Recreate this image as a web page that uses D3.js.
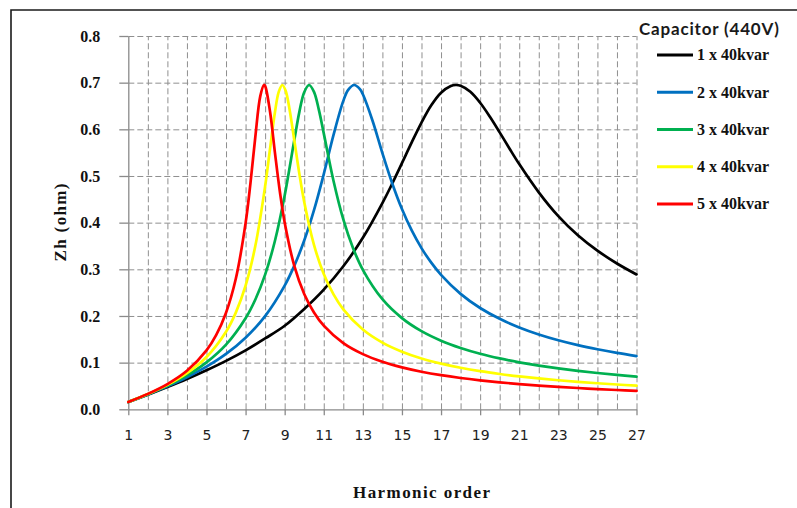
<!DOCTYPE html>
<html>
<head>
<meta charset="utf-8">
<script src="https://cdn.jsdelivr.net/npm/d3@7"></script>
<style>
  html, body { margin: 0; padding: 0; background: #fff; }
  svg { display: block; }
</style>
</head>
<body>
<svg id="chart" width="797" height="508"></svg>
<script>
// ---------- data ----------
const harmonicTicks = [1, 3, 5, 7, 9, 11, 13, 15, 17, 19, 21, 23, 25, 27];
const zhTicks = [0, 0.1, 0.2, 0.3, 0.4, 0.5, 0.6, 0.7, 0.8];
const gridHarmonics = [2, 3, 4, 5, 6, 7, 8, 9, 10, 11, 12, 13, 14, 15, 16, 17, 18, 19, 20, 21, 22, 23, 24, 25, 26, 27];
const gridZh = [0.1, 0.2, 0.3, 0.4, 0.5, 0.6, 0.7, 0.8];

const legendTitle = "Capacitor (440V)";
const seriesNames = ["1 x 40kvar", "2 x 40kvar", "3 x 40kvar", "4 x 40kvar", "5 x 40kvar"];
const seriesColors = ["#000000", "#0070C0", "#00B050", "#FFFF00", "#FF0000"];

// 1 x 40kvar
const h1 = [1, 2, 3, 4, 5, 6, 7, 8, 9, 10, 11, 12, 13, 14, 14.5, 15, 15.5, 16, 16.5, 17, 17.5, 17.76, 18, 18.5, 19, 19.5, 20, 20.5, 21, 22, 23, 24, 25, 26, 27];
const zh1 = [0.0155, 0.0314, 0.0478, 0.0650, 0.0836, 0.1038, 0.1263, 0.1518, 0.1790, 0.2150, 0.2565, 0.3065, 0.3675, 0.4420, 0.4835, 0.5275, 0.5720, 0.6145, 0.6515, 0.6785, 0.6930, 0.6950, 0.6935, 0.6805, 0.6570, 0.6270, 0.5935, 0.5590, 0.5255, 0.4650, 0.4140, 0.3730, 0.3400, 0.3125, 0.2890];
// 2 x 40kvar
const h2 = [1, 2, 3, 4, 5, 6, 7, 8, 9, 9.5, 10, 10.5, 11, 11.5, 12, 12.25, 12.56, 12.85, 13, 13.5, 14, 14.5, 15, 15.5, 16, 16.5, 17, 18, 19, 20, 21, 22, 23, 24, 25, 26, 27];
const zh2 = [0.0156, 0.0318, 0.0492, 0.0687, 0.0913, 0.1187, 0.1535, 0.1998, 0.2651, 0.3084, 0.3616, 0.4267, 0.5041, 0.5881, 0.6610, 0.6845, 0.6950, 0.6862, 0.6751, 0.6179, 0.5491, 0.4845, 0.4291, 0.3833, 0.3455, 0.3143, 0.2882, 0.2474, 0.2171, 0.1939, 0.1754, 0.1604, 0.1480, 0.1375, 0.1286, 0.1208, 0.1140];
// 3 x 40kvar
const h3 = [1, 2, 3, 4, 5, 6, 7, 7.5, 8, 8.5, 9, 9.5, 9.75, 10, 10.25, 10.5, 10.75, 11, 11.5, 12, 12.5, 13, 14, 15, 16, 17, 18, 19, 20, 21, 22, 23, 24, 25, 26, 27];
const zh3 = [0.0157, 0.0322, 0.0507, 0.0727, 0.1006, 0.1386, 0.1952, 0.2354, 0.2886, 0.3607, 0.4582, 0.5787, 0.6369, 0.6796, 0.6950, 0.6803, 0.6417, 0.5913, 0.4893, 0.4069, 0.3452, 0.2989, 0.2359, 0.1955, 0.1675, 0.1471, 0.1315, 0.1191, 0.1091, 0.1007, 0.0937, 0.0877, 0.0824, 0.0778, 0.0737, 0.0701];
// 4 x 40kvar
const h4 = [1, 2, 3, 4, 5, 6, 6.5, 7, 7.5, 8, 8.25, 8.5, 8.7, 8.88, 9.05, 9.25, 9.5, 9.75, 10, 10.5, 11, 11.5, 12, 13, 14, 15, 16, 17, 18, 19, 20, 21, 22, 23, 24, 25, 26, 27];
const zh4 = [0.0157, 0.0326, 0.0523, 0.0773, 0.1120, 0.1662, 0.2072, 0.2650, 0.3503, 0.4780, 0.5578, 0.6360, 0.6808, 0.6950, 0.6828, 0.6427, 0.5743, 0.5051, 0.4444, 0.3524, 0.2899, 0.2462, 0.2142, 0.1709, 0.1429, 0.1235, 0.1090, 0.0979, 0.0890, 0.0817, 0.0757, 0.0705, 0.0661, 0.0622, 0.0588, 0.0558, 0.0531, 0.0506];
// 5 x 40kvar
const h5 = [1, 2, 3, 4, 5, 5.5, 6, 6.5, 7, 7.25, 7.5, 7.75, 7.94, 8, 8.25, 8.5, 8.75, 9, 9.5, 10, 10.5, 11, 12, 13, 14, 15, 16, 17, 18, 19, 20, 21, 22, 23, 24, 25, 26, 27];
const zh5 = [0.0158, 0.0331, 0.0541, 0.0825, 0.1263, 0.1595, 0.2070, 0.2797, 0.3989, 0.4847, 0.5844, 0.6706, 0.6950, 0.6928, 0.6381, 0.5507, 0.4679, 0.4004, 0.3063, 0.2472, 0.2075, 0.1792, 0.1418, 0.1182, 0.1018, 0.0898, 0.0805, 0.0731, 0.0671, 0.0621, 0.0578, 0.0541, 0.0509, 0.0481, 0.0456, 0.0434, 0.0414, 0.0396];

const seriesH = [h1, h2, h3, h4, h5];
const seriesZ = [zh1, zh2, zh3, zh4, zh5];

// ---------- layout ----------
const W = 797, H = 508;
const plot = { left: 128.3, right: 636.5, top: 36, bottom: 409.3 };
const serif = "'Liberation Serif', 'Times New Roman', 'DejaVu Serif', serif";

const svg = d3.select("#chart");
svg.append("rect").attr("width", W).attr("height", H).attr("fill", "#fff");

// outer frame (left and top edges visible)
svg.append("path")
  .attr("d", `M11,${H} L11,10 L${W},10`)
  .attr("fill", "none").attr("stroke", "#1a1a1a").attr("stroke-width", 1.6);

const x = d3.scaleLinear().domain([1, 27]).range([plot.left, plot.right]);
const y = d3.scaleLinear().domain([0, 0.8]).range([plot.bottom, plot.top]);

const gridColor = "#8f8f8f";

// vertical gridlines
const gx = svg.append("g").attr("transform", `translate(0,${plot.bottom})`)
  .call(d3.axisBottom(x).tickValues(gridHarmonics).tickSize(-(plot.bottom - plot.top)).tickFormat(""));
gx.select(".domain").remove();
gx.selectAll("line").attr("stroke", gridColor).attr("stroke-width", 1).attr("stroke-dasharray", "6,3");

// horizontal gridlines
const gy = svg.append("g").attr("transform", `translate(${plot.left},0)`)
  .call(d3.axisLeft(y).tickValues(gridZh).tickSize(-(plot.right - plot.left)).tickFormat(""));
gy.select(".domain").remove();
gy.selectAll("line").attr("stroke", gridColor).attr("stroke-width", 1).attr("stroke-dasharray", "6,3");

// x axis
const ax = svg.append("g").attr("transform", `translate(0,${plot.bottom})`)
  .call(d3.axisBottom(x).tickValues(harmonicTicks).tickSizeInner(6).tickSizeOuter(0).tickPadding(15).tickFormat(d3.format("d")));
ax.select(".domain").attr("stroke", "#8a8a8a").attr("stroke-width", 1.3);
ax.selectAll(".tick line").attr("stroke", "#8a8a8a").attr("stroke-width", 1.3);
ax.selectAll(".tick text")
  .attr("font-family", "'DejaVu Sans', Verdana, sans-serif")
  .attr("font-size", 14).attr("fill", "#222");

// y axis
const ay = svg.append("g").attr("transform", `translate(${plot.left},0)`)
  .call(d3.axisLeft(y).tickValues(zhTicks).tickSizeInner(9).tickSizeOuter(0).tickPadding(19).tickFormat(d3.format(".1f")));
ay.select(".domain").attr("stroke", "#8a8a8a").attr("stroke-width", 1.3);
ay.selectAll(".tick line").attr("stroke", "#8a8a8a").attr("stroke-width", 1.3);
ay.selectAll(".tick text")
  .attr("font-family", serif).attr("font-weight", "bold")
  .attr("font-size", 16).attr("fill", "#111");

// curves
const line = d3.line()
  .x(d => x(d[0]))
  .y(d => y(d[1]))
  .curve(d3.curveCatmullRom.alpha(0.5));

seriesH.forEach((hs, i) => {
  const pts = hs.map((h, j) => [h, seriesZ[i][j]]);
  svg.append("path")
    .datum(pts)
    .attr("d", line)
    .attr("fill", "none")
    .attr("stroke", seriesColors[i])
    .attr("stroke-width", 2.7)
    .attr("stroke-linejoin", "round")
    .attr("stroke-linecap", "round");
});

// axis titles
svg.append("text")
  .attr("x", 421.5).attr("y", 498)
  .attr("text-anchor", "middle")
  .attr("font-family", serif).attr("font-weight", "bold").attr("font-size", 17)
  .attr("textLength", 137).attr("lengthAdjust", "spacing")
  .attr("fill", "#111")
  .text("Harmonic order");

svg.append("text")
  .attr("transform", "translate(66,222.5) rotate(-90)")
  .attr("text-anchor", "middle")
  .attr("font-family", serif).attr("font-weight", "bold").attr("font-size", 17)
  .attr("textLength", 78).attr("lengthAdjust", "spacing")
  .attr("fill", "#111")
  .text("Zh (ohm)");

// legend
const legend = svg.append("g");
legend.append("text")
  .attr("x", 639).attr("y", 35)
  .attr("font-family", "Lato, 'Open Sans', sans-serif").attr("font-weight", "bold").attr("font-size", 17)
  .attr("textLength", 140).attr("lengthAdjust", "spacing")
  .attr("fill", "#1a1a1a")
  .text(legendTitle);

const legendY = d3.scalePoint().domain(seriesNames).range([55, 204]);
seriesNames.forEach((name, i) => {
  const ly = legendY(name);
  legend.append("line")
    .attr("x1", 657).attr("x2", 693).attr("y1", ly).attr("y2", ly)
    .attr("stroke", seriesColors[i]).attr("stroke-width", 2.8);
  legend.append("text")
    .attr("x", 697).attr("y", ly).attr("dy", "0.33em")
    .attr("font-family", serif).attr("font-weight", "bold").attr("font-size", 16)
    .attr("fill", "#111")
    .text(name);
});
</script>
</body>
</html>
